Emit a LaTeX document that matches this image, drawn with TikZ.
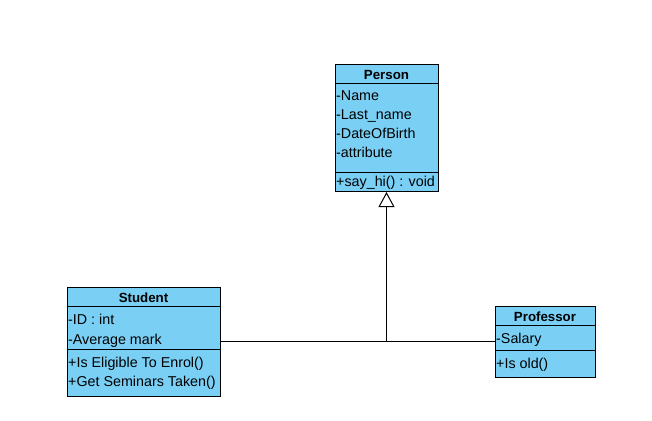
\documentclass[tikz,border=0pt]{standalone}
\usepackage{fontspec}
\setmainfont{Liberation Sans}
\usetikzlibrary{arrows.meta}
\definecolor{cls}{RGB}{122,207,245}
\begin{document}
\begin{tikzpicture}[x=1pt,y=-1pt,
  classbox/.style={draw=black, fill=cls, line width=1pt, inner sep=0pt, anchor=north west},
  title/.style={font=\fontsize{13.3}{15}\selectfont\bfseries, inner sep=0pt, anchor=base},
  member/.style={font=\fontsize{14.3}{16}\selectfont, inner sep=0pt, anchor=base west},
  divider/.style={line width=1pt},
  link/.style={line width=1pt, draw=black}]
\useasboundingbox (0,0) rectangle (652,420);
\fill[white] (0,0) rectangle (652,420);

% Person
\node[classbox, minimum width=103pt, minimum height=127pt] (per) at (335,64) {};
\draw[divider] (335,83) -- (438,83);
\draw[divider] (335,172) -- (438,172);
\node[title] (perT) at (386.5,79) {Person};
\node[member] (per1) at (336,100) {-Name};
\node[member] (per2) at (336,119) {-Last\_name};
\node[member] (per3) at (336,138) {-DateOfBirth};
\node[member] (per4) at (336,157) {-attribute};
\node[member] (per5) at (336,186.5) {+say\_hi() : void};

% Student
\node[classbox, minimum width=153pt, minimum height=109pt] (stu) at (67,287) {};
\draw[divider] (67,306) -- (220,306);
\draw[divider] (67,349) -- (220,349);
\node[title] (stuT) at (143.5,302) {Student};
\node[member] (stu1) at (68,324.5) {-ID : int};
\node[member] (stu2) at (68,344) {-Average mark};
\node[member] (stu3) at (68,367.5) {+Is Eligible To Enrol()};
\node[member] (stu4) at (68,386.5) {+Get Seminars Taken()};

% Professor
\node[classbox, minimum width=100pt, minimum height=71pt] (pro) at (495,306) {};
\draw[divider] (495,325) -- (595,325);
\draw[divider] (495,350) -- (595,350);
\node[title] (proT) at (545,321) {Professor};
\node[member] (pro1) at (496,343.5) {-Salary};
\node[member] (pro2) at (496,368) {+Is old()};

% Generalization
\coordinate (j) at (386.5,341.5);
\draw[link] (stu.east |- j) -- (pro.west |- j);
\draw[link, -{Triangle[open, length=15pt, width=16pt, line width=1pt, fill=white]}] (j) -- (j |- per.south);
\end{tikzpicture}
\end{document}
